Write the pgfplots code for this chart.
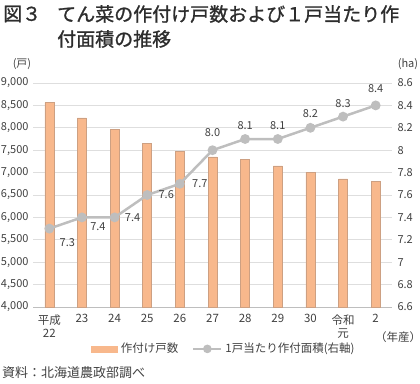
\documentclass[border=0pt]{standalone}
\usepackage{fontspec}
\setmainfont{Noto Sans CJK JP}
\newfontfamily\titlefont{Noto Sans CJK JP}[FakeBold=1.2]
\usepackage{pgfplots}
\pgfplotsset{compat=1.18}
\pgfkeys{/pgf/number format/assume math mode=true}
\definecolor{barfill}{RGB}{248,184,140}
\definecolor{bardraw}{RGB}{205,160,130}
\definecolor{linegray}{RGB}{190,190,190}
\definecolor{gridgray}{RGB}{222,222,222}
\definecolor{axisgray}{RGB}{190,190,190}
\definecolor{txt}{RGB}{64,64,64}
\definecolor{ttl}{RGB}{45,45,45}
\pgfplotsset{
  barleg/.style={legend image code/.code={\fill[barfill] (0pt,-3pt) rectangle (26pt,3pt);}},
  lineleg/.style={legend image code/.code={\draw[linegray, line width=2.2pt] (0pt,0pt) -- (28pt,0pt); \fill[linegray] (14pt,0pt) circle (3pt);}},
}
\begin{document}
\begin{tikzpicture}
\path[use as bounding box] (0pt,0pt) rectangle (420pt,-383pt);
\node[anchor=west,inner sep=0,font=\fontsize{19}{19}\titlefont,text=ttl] at (3pt,-14pt) {図３};
\node[anchor=west,inner sep=0,font=\fontsize{19}{19}\titlefont,text=ttl] at (57pt,-14pt) {てん菜の作付け戸数および１戸当たり作};
\node[anchor=west,inner sep=0,font=\fontsize{19}{19}\titlefont,text=ttl] at (57pt,-39pt) {付面積の推移};
\node[inner sep=0,font=\fontsize{11}{11}\selectfont,text=txt] at (22pt,-64pt) {(戸)};
\node[inner sep=0,font=\fontsize{11}{11}\selectfont,text=txt] at (408pt,-64pt) {(ha)};
\node[inner sep=0,font=\fontsize{11.5}{11.5}\selectfont,text=txt] at (398pt,-337pt) {（年産）};
\node[anchor=west,inner sep=0,font=\fontsize{13}{13}\selectfont,text=txt] at (2pt,-373pt) {資料：北海道農政部調べ};

\begin{axis}[
  at={(33pt,-307pt)}, anchor=south west,
  scale only axis, width=359pt, height=224pt,
  xmin=-0.5, xmax=10.5, ymin=4000, ymax=9000,
  ytick={4000,4500,5000,5500,6000,6500,7000,7500,8000,8500,9000},
  ymajorgrids, grid style={gridgray, line width=0.8pt},
  axis x line*=bottom, axis y line*=left,
  y axis line style={draw=none},
  x axis line style={axisgray, line width=0.8pt},
  major tick length=0pt,
  xtick={0,...,10},
  xticklabels={{平成\\22},23,24,25,26,27,28,29,30,{令和\\元},2},
  xticklabel style={align=center, font=\fontsize{11.5}{13}\selectfont, text=txt, anchor=north, yshift=-4pt},
  yticklabel style={font=\fontsize{11}{11}\selectfont, text=txt, xshift=-1pt},
  scaled y ticks=false,
  /pgf/number format/.cd, 1000 sep={,}, assume math mode=true,
]
\addplot[ybar, bar width=9pt, fill=barfill, draw=bardraw, line width=0.6pt] coordinates {
(0,8560) (1,8220) (2,7960) (3,7660) (4,7470) (5,7350) (6,7290) (7,7150) (8,7010) (9,6860) (10,6800)};
\end{axis}

\begin{axis}[
  at={(33pt,-307pt)}, anchor=south west,
  scale only axis, width=359pt, height=224pt,
  xmin=-0.5, xmax=10.5, ymin=6.6, ymax=8.6,
  ytick={6.6,6.8,7,7.2,7.4,7.6,7.8,8,8.2,8.4,8.6},
  axis x line=none, axis y line*=right,
  y axis line style={draw=none},
  major tick length=0pt,
  yticklabel style={font=\fontsize{11}{11}\selectfont, text=txt, anchor=west, xshift=2pt},
  /pgf/number format/assume math mode=true,
  legend columns=2,
  legend style={at={(0.532,-0.187)}, anchor=center, draw=none, fill=none,
     font=\fontsize{11.5}{11.5}\selectfont, text=txt,
     /tikz/every odd column/.append style={column sep=1pt},
     /tikz/every even column/.append style={column sep=12pt},
     nodes={inner xsep=2pt}},
]
\addlegendimage{barleg}
\addlegendentry{作付け戸数}
\addplot[linegray, line width=2.5pt, mark=*, mark size=3.6pt, mark options={fill=linegray, draw=linegray}, lineleg] coordinates {
(0,7.3) (1,7.4) (2,7.4) (3,7.6) (4,7.7) (5,8.0) (6,8.1) (7,8.1) (8,8.2) (9,8.3) (10,8.4)};
\addlegendentry{1戸当たり作付面積(右軸)}
\addplot[draw=none, mark=none, forget plot,
  nodes near coords={\pgfmathprintnumber[fixed,fixed zerofill,precision=1,assume math mode=true]{\pgfplotspointmeta}},
  visualization depends on={\thisrow{dx}\as\dx},
  visualization depends on={\thisrow{dy}\as\dy},
  every node near coord/.append style={anchor=center, xshift=\dx pt, yshift=\dy pt,
     font=\fontsize{11}{11}\selectfont, text=txt, inner sep=0pt}]
  table[x=x, y=y, meta=y] {
x y dx dy
0 7.3 18 -14
1 7.4 16 -9
2 7.4 18 0
3 7.6 19 0
4 7.7 20 0
5 8.0 0 18
6 8.1 0 13
7 8.1 0 13
8 8.2 0 14
9 8.3 0 13
10 8.4 0 17
};
\end{axis}
\end{tikzpicture}
\end{document}
